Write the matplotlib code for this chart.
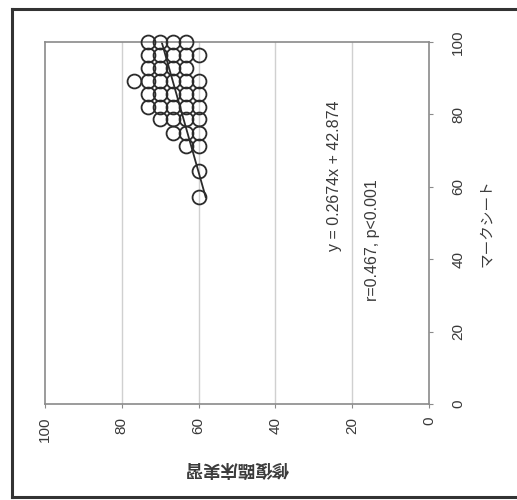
import matplotlib
matplotlib.use("Agg")
import matplotlib.pyplot as plt
from matplotlib.lines import Line2D

plt.rcParams['font.family'] = ['Liberation Sans', 'Noto Sans CJK JP', 'DejaVu Sans']

# マークシート (x) と 修復臨床実習 (y) の点, 行ごと
mark_rows = [100.0, 96.4, 92.9, 89.3, 85.7, 82.1, 78.6, 75.0, 71.4, 64.3, 57.1]
clin_rows = [
    [73.3, 70.0, 66.7, 63.3],
    [73.3, 70.0, 66.7, 63.3, 60.0],
    [73.3, 70.0, 66.7, 63.3],
    [76.7, 73.3, 70.0, 66.7, 63.3, 60.0],
    [73.3, 70.0, 66.7, 63.3, 60.0],
    [73.3, 70.0, 66.7, 63.3, 60.0],
    [70.0, 66.7, 63.3, 60.0],
    [66.7, 63.3, 60.0],
    [63.3, 60.0],
    [60.0],
    [60.0],
]
slope = 0.2674
intercept = 42.874
eq_text = "y = 0.2674x + 42.874"
r_text = "r=0.467, p<0.001"
ticks = [0, 20, 40, 60, 80, 100]

mark = []
clin = []
for m, row in zip(mark_rows, clin_rows):
    for c in row:
        mark.append(m)
        clin.append(c)

fig = plt.figure(figsize=(5.17, 5.00), dpi=100)
ax = fig.add_axes([45 / 517, 1 - 404 / 500, 384 / 517, 362 / 500])

# 図は90度回転している: 横軸 = 修復臨床実習 (100 -> 0), 縦軸 = マークシート
for g in [20, 40, 60, 80]:
    ax.axvline(g, color='#d0d0d0', lw=1.0, zorder=0)

ax.plot(clin, mark, 'o', ms=10, mfc='none', mec='#2b2b2b', mew=1.3, zorder=3, clip_on=False)
xr = [min(mark), max(mark)]
ax.plot([slope * v + intercept for v in xr], xr, color='#2b2b2b', lw=1.3, zorder=2, clip_on=False)

ax.set_xlim(100, 0)
ax.set_ylim(0, 100)
ax.set_xticks(ticks)
ax.set_yticks(ticks)
ax.yaxis.tick_right()
for s in ax.spines.values():
    s.set_color('#8a8a8a')
    s.set_linewidth(1.2)
ax.tick_params(axis='both', colors='#8a8a8a', labelcolor='#3a3a3a', labelsize=11, length=3)
ax.tick_params(axis='x', pad=6, labelrotation=90)
ax.tick_params(axis='y', pad=13, labelrotation=90)
for lab in ax.get_yticklabels():
    lab.set_va('center')

ax.text(24.5, 63, eq_text, rotation=90, ha='center', va='center', fontsize=11.5, color='#3a3a3a')
ax.text(14.8, 45.3, r_text, rotation=90, ha='center', va='center', fontsize=11.5, color='#3a3a3a')

ax.text(1.151, 0.5, "マークシート", rotation=90, ha='center', va='center',
        fontsize=10.5, color='#3a3a3a', transform=ax.transAxes)
ax.text(0.5, -0.177, "修復臨床実習", rotation=180, ha='center', va='center',
        fontsize=12.5, fontweight='bold', color='#3a3a3a', transform=ax.transAxes)

# 外枠
fx0, fy0, fy1 = 12 / 517, 1 - 497 / 500, 1 - 9 / 500
for xs, ys in [([fx0, fx0], [fy0, fy1]), ([fx0, 1], [fy1, fy1]), ([fx0, 1], [fy0, fy0])]:
    fig.add_artist(Line2D(xs, ys, color='#333333', lw=2.2, transform=fig.transFigure))

fig.savefig("out.png", dpi=100)
